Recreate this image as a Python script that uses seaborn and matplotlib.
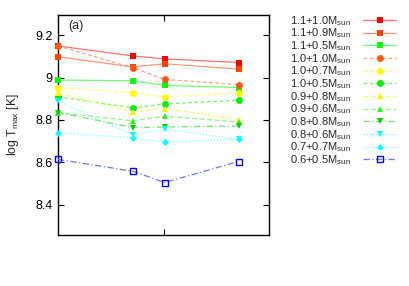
import numpy as np
import pandas as pd
import matplotlib
matplotlib.use("Agg")
import matplotlib.pyplot as plt
import matplotlib.colors as mcolors
import seaborn as sns

# x positions of the four models (axis has no labelled values)
x_pos = [0.0, 0.355, 0.505, 0.855]

labels = ["1.1+1.0", "1.1+0.9", "1.1+0.5", "1.0+1.0", "1.0+0.7", "1.0+0.5",
          "0.9+0.8", "0.9+0.6", "0.8+0.8", "0.8+0.6", "0.7+0.7", "0.6+0.5"]

t_11_10 = [9.149, 9.102, 9.088, 9.071]
t_11_09 = [9.098, 9.050, 9.065, 9.040]
t_11_05 = [8.988, 8.985, 8.963, 8.953]
t_10_10 = [9.149, 9.046, 8.991, 8.967]
t_10_07 = [8.953, 8.928, 8.909, 8.926]
t_10_05 = [8.909, 8.857, 8.876, 8.893]
t_09_08 = [8.925, 8.838, 8.854, 8.802]
t_09_06 = [8.835, 8.796, 8.818, 8.790]
t_08_08 = [8.835, 8.764, 8.767, 8.772]
t_08_06 = [8.889, 8.728, 8.757, 8.708]
t_07_07 = [8.739, 8.717, 8.695, 8.708]
t_06_05 = [8.614, 8.558, 8.505, 8.604]

series = [t_11_10, t_11_09, t_11_05, t_10_10, t_10_07, t_10_05,
          t_09_08, t_09_06, t_08_08, t_08_06, t_07_07, t_06_05]

colors = ["#ff0000", "#ff4500", "#00ff00", "#ff5a1a", "#ffff00", "#00ee00",
          "#f5f500", "#33ee33", "#00cc00", "#00ffff", "#00ffff", "#0000ff"]
markers = ["s", "s", "s", "o", "o", "o", "^", "^", "v", "v", "D", "s"]
styles = ["-", "-", "-", (0, (3, 2)), (0, (3, 2)), (0, (3, 2)),
          (0, (4, 2)), (0, (4, 2)), (0, (5, 2, 1, 2)), (0, (1, 1.5)),
          (0, (1, 1.5)), (0, (5, 2, 1, 2))]
msizes = [5, 5, 5, 5, 5, 5, 4.5, 4.5, 4.5, 4.5, 3.5, 5]

sns.set_style("ticks")
plt.rcParams["font.family"] = ["Liberation Sans", "DejaVu Sans"]
plt.rcParams["mathtext.fontset"] = "custom"
plt.rcParams["mathtext.rm"] = "Liberation Sans"
plt.rcParams["mathtext.it"] = "Liberation Sans:italic"

fig = plt.figure(figsize=(4.09, 2.86), dpi=100)
ax = fig.add_axes([0.142, 0.178, 0.516, 0.771])

def lighten(c, f=0.45):
    r, g, b = mcolors.to_rgb(c)
    return (r + (1 - r) * f, g + (1 - g) * f, b + (1 - b) * f)

handles = []
for lab, vals, c, m, ls, ms in zip(labels, series, colors, markers, styles, msizes):
    df = pd.DataFrame({"x": x_pos, "y": vals})
    sns.lineplot(data=df, x="x", y="y", ax=ax, color=lighten(c), lw=0.9,
                 linestyle=ls, marker=m, markersize=ms,
                 markerfacecolor="none" if lab == "0.6+0.5" else c,
                 markeredgecolor=c, markeredgewidth=1 if lab == "0.6+0.5" else 0,
                 clip_on=False, zorder=3)
    handles.append(ax.lines[-1])

ax.set_xlim(0, 1)
ax.set_ylim(8.257, 9.297)
ax.set_xticks([0.5])
ax.set_xticklabels([])
ax.set_yticks([8.4, 8.6, 8.8, 9.0, 9.2])
ax.set_yticklabels(["8.4", "8.6", "8.8", "9", "9.2"])
ax.tick_params(direction="in", top=True, right=True, length=4, width=0.8,
               labelsize=9, colors="black", pad=4)
for s in ax.spines.values():
    s.set_linewidth(1.0)
    s.set_color("black")
ax.set_xlabel("")
ax.set_ylabel(r"log T$_{\rm max}$ [K]", fontsize=8.7, labelpad=10)
ax.text(0.084, 0.95, "(a)", transform=ax.transAxes, fontsize=9,
        ha="center", va="center")

leg = ax.legend(handles, [l + r"M$_{\rm sun}$" for l in labels],
                loc="upper left", bbox_to_anchor=(1.0995, 1.004), frameon=False,
                markerfirst=False, fontsize=8, handlelength=3.0,
                handletextpad=1.1, labelspacing=-0.1, borderaxespad=0.0,
                borderpad=0.0)

fig.savefig("out.png", dpi=100)
